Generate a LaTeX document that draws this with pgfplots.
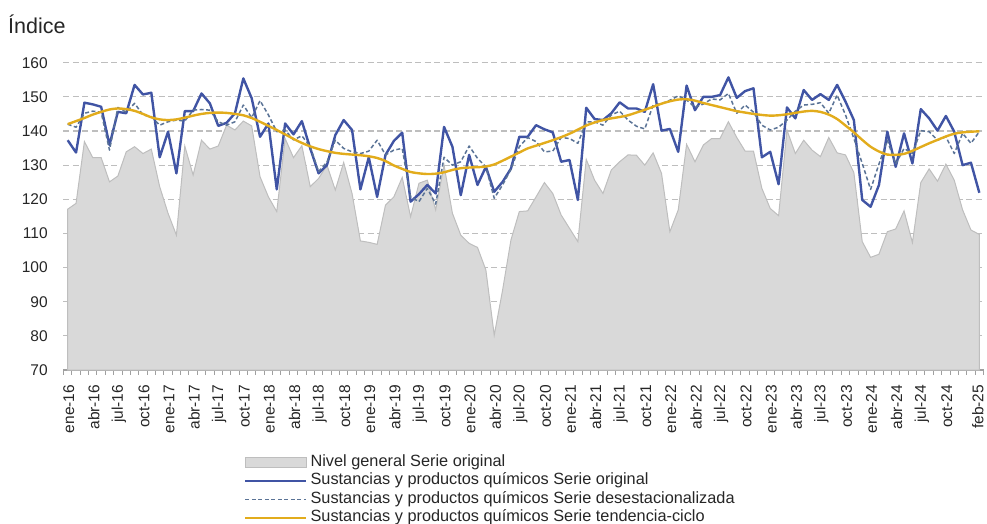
\documentclass[border=0pt]{standalone}
\usepackage{fontspec}
\setmainfont{Liberation Sans}
\usepackage{pgfplots}
\usepackage{pgfplotstable}
\pgfplotsset{compat=1.18}

\definecolor{areafill}{RGB}{217,217,217}
\definecolor{areaedge}{RGB}{190,190,190}
\definecolor{quimblue}{RGB}{64,84,164}
\definecolor{desblue}{RGB}{90,115,150}
\definecolor{tendgold}{RGB}{226,172,28}
\definecolor{gridgray}{RGB}{190,190,190}
\definecolor{axisgray}{RGB}{160,160,160}

\pgfplotsset{
  linelegend/.style={legend image code/.code={\draw[##1] (0pt,0pt) -- (61pt,0pt);}},
  boxlegend/.style={legend image code/.code={\draw[##1] (0pt,-4.7pt) rectangle (61pt,4.7pt);}},
}

% i = meses desde ene-16; gen = nivel general, orig/desest/tend = sustancias y productos quimicos
\pgfplotstableread{
i   gen    orig   desest tend
0   117.1  137.3  142.0  142.0
1   118.8  133.7  141.1  142.9
2   136.9  148.3  145.2  143.8
3   132.2  147.8  145.8  144.8
4   132.2  147.1  145.5  145.6
5   125.1  135.9  134.4  146.3
6   126.8  145.6  146.9  146.6
7   133.9  145.2  145.5  146.4
8   135.4  153.5  148.1  145.9
9   133.4  150.7  144.7  145.0
10  134.7  151.2  144.2  144.0
11  123.7  132.3  141.7  143.4
12  115.9  139.8  142.7  143.2
13  109.5  127.6  143.2  143.4
14  135.6  145.8  142.9  143.9
15  127.1  145.8  146.1  144.5
16  137.3  151.0  146.3  145.0
17  134.7  148.1  146.1  145.3
18  135.6  141.5  142.7  145.4
19  141.7  142.4  141.7  145.3
20  140.3  145.2  142.7  145.0
21  142.9  155.4  147.6  144.6
22  141.5  149.6  143.9  143.8
23  126.6  138.3  148.9  142.7
24  120.7  142.2  144.7  141.5
25  116.4  122.9  139.8  140.3
26  137.8  142.2  140.3  139.0
27  132.2  139.0  137.4  137.7
28  135.7  142.9  138.6  136.5
29  123.7  134.9  135.4  135.5
30  126.1  127.6  128.1  134.7
31  130.0  130.0  130.9  134.1
32  122.7  138.8  137.3  133.6
33  130.8  143.2  134.9  133.3
34  121.7  140.3  133.9  133.1
35  107.8  122.9  133.4  132.9
36  107.4  132.3  134.1  132.6
37  106.8  120.7  137.3  132.1
38  118.3  133.0  133.0  131.2
39  120.7  137.1  134.4  129.9
40  126.4  139.5  134.9  128.9
41  114.9  119.3  120.7  128.0
42  124.7  121.5  119.3  127.6
43  125.6  124.2  123.2  127.4
44  116.9  121.7  118.6  127.5
45  130.0  141.2  132.3  127.9
46  115.9  135.4  130.0  128.6
47  109.5  121.2  131.0  129.1
48  107.1  133.0  135.6  129.3
49  105.9  124.2  132.0  129.4
50  99.3   129.5  129.5  129.6
51  80.2   122.2  120.3  130.2
52  93.4   125.1  124.2  131.3
53  108.1  129.0  128.8  132.5
54  116.4  138.3  135.4  133.7
55  116.6  138.3  138.1  134.9
56  120.7  141.7  136.9  135.7
57  124.9  140.5  133.9  136.5
58  121.7  139.6  134.1  137.3
59  115.4  131.0  138.1  138.2
60  111.5  131.5  137.8  139.2
61  107.6  119.8  136.4  140.4
62  131.7  146.8  142.7  141.6
63  125.6  143.5  142.7  142.5
64  121.7  143.2  141.7  143.2
65  128.6  145.2  144.7  143.7
66  131.0  148.4  145.8  144.1
67  133.0  146.6  143.2  144.6
68  132.9  146.6  141.4  145.4
69  130.0  145.6  140.6  146.2
70  133.6  153.7  147.6  147.1
71  127.6  140.1  148.0  148.0
72  110.5  140.6  149.0  148.7
73  116.9  133.9  150.3  149.2
74  136.1  153.3  149.1  149.3
75  131.0  146.1  146.9  148.9
76  135.9  150.0  147.9  148.2
77  137.8  150.0  149.4  147.6
78  137.8  150.5  149.1  147.0
79  142.7  155.7  151.0  146.4
80  138.1  149.7  145.2  145.8
81  134.1  151.7  147.6  145.4
82  134.1  152.5  145.5  145.0
83  123.2  132.3  141.7  144.7
84  117.3  133.9  140.3  144.5
85  115.2  124.4  141.1  144.6
86  140.3  146.9  143.2  144.9
87  133.4  143.7  145.8  145.3
88  137.3  152.0  147.6  145.7
89  134.4  149.1  147.8  145.9
90  132.5  150.8  148.3  145.6
91  138.1  149.1  145.2  144.8
92  133.6  153.5  150.5  143.5
93  133.0  148.6  144.7  141.6
94  127.8  143.2  137.8  139.6
95  107.6  119.8  130.5  137.4
96  103.0  117.8  122.9  135.4
97  103.9  124.2  130.3  134.0
98  110.5  139.8  137.3  133.1
99  111.3  129.5  130.3  133.0
100 116.6  139.3  134.9  133.3
101 107.3  130.5  133.4  134.2
102 124.9  146.4  140.1  135.3
103 128.9  143.7  139.8  136.4
104 125.3  140.1  137.3  137.4
105 130.3  144.4  138.3  138.4
106 125.6  139.8  133.4  139.2
107 116.9  130.0  139.3  139.6
108 111.0  130.7  136.4  139.8
109 109.7  121.9  139.8  139.9
}\datatable

\begin{document}
\begin{tikzpicture}
\path[use as bounding box] (-63.5pt,-154pt) rectangle (923.5pt,370pt);
\begin{axis}[
  at={(0pt,0pt)}, anchor=south west,
  width=920pt, height=307.3pt, scale only axis,
  xmin=-0.5, xmax=109.5, ymin=70, ymax=160,
  axis x line*=bottom, axis y line*=left,
  x axis line style={draw=axisgray, line width=1.2pt, -},
  y axis line style={draw=none},
  ytick={70,80,...,160},
  ymajorgrids,
  grid style={gridgray, line width=1.2pt, dash pattern=on 6pt off 3.5pt},
  major y tick style={draw=none},
  xtick={0,3,...,105},
  xticklabels={ene-16,abr-16,jul-16,oct-16,ene-17,abr-17,jul-17,oct-17,
    ene-18,abr-18,jul-18,oct-18,ene-19,abr-19,jul-19,oct-19,
    ene-20,abr-20,jul-20,oct-20,ene-21,abr-21,jul-21,oct-21,
    ene-22,abr-22,jul-22,oct-22,ene-23,abr-23,jul-23,oct-23,
    ene-24,abr-24,jul-24,oct-24},
  extra x ticks={109},
  extra x tick labels={feb-25},
  extra x tick style={major x tick style={draw=none},
    xticklabel style={yshift=2.5pt}},
  major x tick style={draw=none},
  minor xtick={-0.5,0.5,...,109.5},
  minor x tick style={draw=axisgray, line width=1pt},
  tick align=outside, minor tick length=4.5pt,
  tick label style={font=\fontsize{15.5}{18}\selectfont, text=black!85},
  /pgf/number format/assume math mode=true,
  xticklabel style={rotate=90, anchor=east, inner ysep=0.5pt, xshift=-7pt, yshift=-1pt},
  yticklabel style={xshift=-8pt},
  legend style={at={(0.1962,-0.270)}, anchor=north west, draw=none, fill=none,
    font=\fontsize{16.3}{18}\selectfont, text=black!85,
    row sep=0pt, inner sep=0pt,
    nodes={inner xsep=3pt, inner ysep=2pt, text height=11pt, text depth=3.5pt}},
  legend cell align=left,
  linelegend,
]
\addplot[fill=areafill, draw=areaedge, line width=1pt, boxlegend]
  table[x=i, y=gen] {\datatable} \closedcycle;
\addlegendentry{Nivel general Serie original}
\addplot[quimblue, line width=2.4pt, line join=round]
  table[x=i, y=orig] {\datatable};
\addlegendentry{Sustancias y productos químicos Serie original}
\addplot[desblue, line width=1.5pt, dash pattern=on 4pt off 2.5pt, line join=round]
  table[x=i, y=desest] {\datatable};
\addlegendentry{Sustancias y productos químicos Serie desestacionalizada}
\addplot[tendgold, line width=2.4pt, smooth]
  table[x=i, y=tend] {\datatable};
\addlegendentry{Sustancias y productos químicos Serie tendencia-ciclo}
\end{axis}
\node[anchor=base west, inner sep=0pt, font=\fontsize{21.5}{24}\selectfont, text=black!85]
  at (-55.5pt,336pt) {Índice};
\end{tikzpicture}
\end{document}
